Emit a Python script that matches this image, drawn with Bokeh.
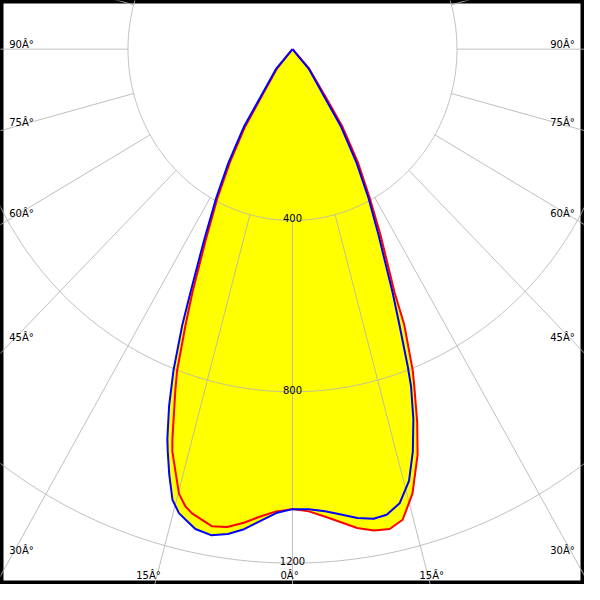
import numpy as np
from bokeh.plotting import figure
from bokeh.models import Range1d
from bokeh.embed import file_html
from bokeh.resources import INLINE
from bokeh.core.properties import value

# ---------------- data: gamma angle (deg) and luminous intensity (cd) ----------------
# blue curve, C0 half-plane (drawn to the right)
gamma_c0 = [0, 2.1, 4.2, 6.2, 8.2, 10.2, 11.9, 13.8, 15.7, 17.3, 18.8, 20.1, 20.7,
            22.0, 23.2, 25.8, 28.0, 30.4, 33.1, 34.8, 41.0, 90]
cd_c0 = [1074, 1075, 1082, 1093, 1106, 1114, 1111, 1092, 1047, 984, 912, 839, 794,
         694, 618, 479, 394, 308, 217, 138, 60, 0]
# blue curve, C180 half-plane (drawn to the left)
gamma_c180 = [0, 2.1, 4.1, 6.0, 7.9, 9.9, 11.9, 13.3, 14.3, 15.5, 16.8, 17.9, 18.5,
              19.8, 21.1, 22.6, 23.6, 25.7, 28.1, 30.4, 33.1, 34.8, 41.0, 90]
cd_c180 = [1074, 1084, 1105, 1127, 1143, 1152, 1145, 1129, 1118, 1092, 1037, 987, 959,
           886, 804, 697, 620, 497, 394, 308, 217, 138, 60, 0]
# red curve, C90 half-plane (drawn to the right)
gamma_c90 = [0, 2.1, 4.1, 6.1, 8.0, 10.0, 11.9, 13.7, 15.7, 17.8, 19.2, 20.6, 21.3,
             22.9, 23.6, 26.3, 28.4, 31.0, 33.8, 35.7, 41.5, 90]
cd_c90 = [1074, 1080, 1094, 1111, 1129, 1141, 1145, 1131, 1078, 995, 922, 842, 805,
          698, 620, 482, 395, 310, 219, 140, 61, 0]
# red curve, C270 half-plane (drawn to the left)
gamma_c270 = [0, 2.1, 4.1, 6.1, 8.1, 10.0, 12.7, 13.7, 14.9, 17.3, 17.8, 19.7, 20.5,
              22.0, 23.2, 25.3, 27.7, 29.9, 32.5, 34.1, 39.8, 90]
cd_c270 = [1074, 1080, 1094, 1112, 1127, 1131, 1111, 1099, 1074, 983, 955, 845, 801,
           694, 618, 495, 393, 307, 216, 138, 59, 0]

ring_values = [400, 800, 1200]
ring_labels = ["400", "800", "1200"]
angle_ticks = [90, 75, 60, 45, 30, 15, 0]
angle_labels = ["90Â°", "75Â°", "60Â°", "45Â°", "30Â°", "15Â°", "0Â°"]

# ---------------- geometry ----------------
KX = 0.4225   # reference px per cd, horizontal
KY = 0.44     # reference px per cd, vertical
CX, CY = 300.0, 50.0  # centre in reference pixels


def px2data(px, py):
    return (px - CX) / KX, -(py - CY) / KY


x0, _ = px2data(0, 0)
x1, _ = px2data(600, 0)
_, ytop = px2data(0, 0)
_, ybot = px2data(0, 600)

p = figure(width=584, height=584, output_backend="svg", toolbar_location=None,
           x_range=Range1d(x0, x1), y_range=Range1d(ybot, ytop),
           x_axis_type=None, y_axis_type=None, min_border=0)
p.grid.visible = False
p.outline_line_color = "black"
p.outline_line_width = 6
p.background_fill_color = "white"
p.border_fill_color = "white"


def plane_pair_polygon(g_right, i_right, g_left, i_left):
    tr = np.radians(np.array(g_right, dtype=float))
    ir = np.array(i_right, dtype=float)
    tl = np.radians(np.array(g_left, dtype=float))
    il = np.array(i_left, dtype=float)
    xs = np.concatenate([(-il * np.sin(tl))[::-1], ir * np.sin(tr)])
    ys = np.concatenate([(-il * np.cos(tl))[::-1], -ir * np.cos(tr)])
    return xs, ys


bx, by = plane_pair_polygon(gamma_c0, cd_c0, gamma_c180, cd_c180)
rx, ry = plane_pair_polygon(gamma_c90, cd_c90, gamma_c270, cd_c270)

# fills
p.patch(rx, ry, fill_color="#ffff00", line_color=None)
p.patch(bx, by, fill_color="#ffff00", line_color=None)

# grid
grid_col = "#b4b4b4"
phi = np.linspace(0, 2 * np.pi, 721)
for rv in ring_values:
    p.line(rv * np.sin(phi), -rv * np.cos(phi), line_color=grid_col, line_width=1, line_alpha=0.85)
rad_xs, rad_ys = [], []
for a in range(0, 360, 15):
    t = np.radians(a)
    rad_xs.append([ring_values[0] * np.sin(t), 4000 * np.sin(t)])
    rad_ys.append([-ring_values[0] * np.cos(t), -4000 * np.cos(t)])
p.multi_line(rad_xs, rad_ys, line_color=grid_col, line_width=1, line_alpha=0.85)

# curves
p.line(rx, ry, line_color="#ff0000", line_width=2, line_join="round")
p.line(bx, by, line_color="#0000ff", line_width=2, line_join="round")

# intensity labels
p.text(x=[0] * len(ring_values), y=[-v for v in ring_values], text=ring_labels,
       text_font=value("DejaVu Sans"), text_font_size="10px", text_color="black",
       text_align="center", text_baseline="alphabetic", y_offset=-2)

# angle labels (baseline positions in reference pixels)
side_baselines = {90: 45, 75: 125, 60: 219, 45: 346, 30: 565}
bottom_centres = {15: 152, 0: 297}
lx, ly, lt = [], [], []
rxs, rys, rts = [], [], []
bxs, bys, bts = [], [], []
for ang, lab in zip(angle_ticks, angle_labels):
    if ang in side_baselines:
        xl, yl = px2data(9, side_baselines[ang])
        xr, yr = px2data(590, side_baselines[ang])
        lx.append(xl); ly.append(yl); lt.append(lab)
        rxs.append(xr); rys.append(yr); rts.append(lab)
    else:
        c = bottom_centres[ang]
        xb, yb = px2data(c, 591)
        bxs.append(xb); bys.append(yb); bts.append(lab)
        if ang != 0:
            xb2, yb2 = px2data(600 - c - 5, 591)
            bxs.append(xb2); bys.append(yb2); bts.append(lab)

common = dict(text_font=value("DejaVu Sans"), text_font_size="10px", text_color="black",
              text_baseline="alphabetic")
p.text(x=lx, y=ly, text=lt, text_align="left", **common)
p.text(x=rxs, y=rys, text=rts, text_align="right", **common)
p.text(x=bxs, y=bys, text=bts, text_align="center", **common)

open("out.html", "w").write(file_html(p, INLINE))
